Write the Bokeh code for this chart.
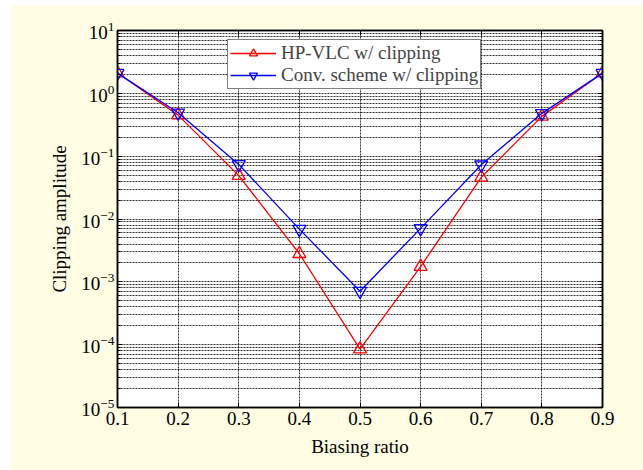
from bokeh.plotting import figure
from bokeh.models import (Range1d, FixedTicker, LogAxis, LinearAxis, LogTickFormatter,
                          CustomJSTickFormatter, Legend, LegendItem)
from bokeh.embed import file_html
from bokeh.resources import INLINE

# ---- data ----
biasing_ratio = [0.1, 0.2, 0.3, 0.4, 0.5, 0.6, 0.7, 0.8, 0.9]
hp_vlc_clip = [2.1, 0.45, 0.049, 0.0028, 0.000085, 0.00175, 0.046, 0.43, 2.1]
conv_clip = [2.1, 0.49, 0.074, 0.0069, 0.00071, 0.0071, 0.073, 0.48, 2.1]
series_names = ["HP-VLC w/ clipping", "Conv. scheme w/ clipping"]
x_ticks = [0.1, 0.2, 0.3, 0.4, 0.5, 0.6, 0.7, 0.8, 0.9]
y_decades = [1e-5, 1e-4, 1e-3, 1e-2, 1e-1, 1e0, 1e1]
y_minor = [m * d for d in y_decades[:-1] for m in range(2, 10)]

FONT = "Liberation Serif"
BG = "#fffde3"

p = figure(width=633, height=466, y_axis_type="log",
           x_range=Range1d(0.1, 0.9), y_range=Range1d(1e-5, 1e1),
           output_backend="svg", toolbar_location=None,
           background_fill_color="white", border_fill_color=BG,
           min_border_left=107, min_border_right=41, min_border_top=26, min_border_bottom=63,
           margin=(4, 0, 0, 10))

p.outline_line_color = "black"
p.outline_line_width = 1.5

xt = FixedTicker(ticks=x_ticks)
yt = FixedTicker(ticks=y_decades, minor_ticks=y_minor)

p.xaxis.ticker = xt
p.yaxis.ticker = yt
p.yaxis.formatter = LogTickFormatter()

for ax in (p.xaxis[0], p.yaxis[0]):
    ax.axis_line_color = "black"
    ax.axis_line_width = 1.5
    ax.major_tick_in = 5
    ax.major_tick_out = 0
    ax.minor_tick_in = 3
    ax.minor_tick_out = 0
    ax.major_label_text_font = FONT
    ax.major_label_text_font_size = "19px"
    ax.major_label_text_color = "black"
    ax.axis_label_text_font = FONT
    ax.axis_label_text_font_size = "19px"
    ax.axis_label_text_font_style = "normal"
    ax.axis_label_text_color = "black"

p.xaxis.axis_label = "Biasing ratio"
p.yaxis.axis_label = "Clipping amplitude"
p.xaxis.major_label_standoff = 4
p.xaxis.axis_label_standoff = 8
p.yaxis.major_label_standoff = 3
p.yaxis.axis_label_standoff = 8

# box ticks on top and right (no labels)
top_ax = LinearAxis(ticker=xt, formatter=CustomJSTickFormatter(code="return ''"),
                    major_tick_in=5, major_tick_out=0, minor_tick_line_color=None,
                    axis_line_color="black", axis_line_width=1.5)
right_ax = LogAxis(ticker=yt, formatter=CustomJSTickFormatter(code="return ''"),
                   major_tick_in=5, major_tick_out=0, minor_tick_in=3, minor_tick_out=0,
                   axis_line_color="black", axis_line_width=1.5)
p.add_layout(top_ax, "above")
p.add_layout(right_ax, "right")

# grids
p.xgrid.ticker = xt
p.ygrid.ticker = yt
for g in (p.xgrid[0], p.ygrid[0]):
    g.grid_line_color = "black"
    g.grid_line_alpha = 0.8
    g.grid_line_dash = "2 1"
    g.grid_line_width = 1
p.ygrid.minor_grid_line_color = "black"
p.ygrid.minor_grid_line_alpha = 0.8
p.ygrid.minor_grid_line_dash = "2 1"

# series
r1 = p.line(biasing_ratio, hp_vlc_clip, line_color="red", line_width=1.3)
m1 = p.scatter(biasing_ratio, hp_vlc_clip, marker="triangle", size=13,
               line_color="red", fill_color=None, line_width=1.3)
r2 = p.line(biasing_ratio, conv_clip, line_color="blue", line_width=1.3)
m2 = p.scatter(biasing_ratio, conv_clip, marker="inverted_triangle", size=13,
               line_color="blue", fill_color=None, line_width=1.3)

legend = Legend(items=[LegendItem(label=series_names[0], renderers=[r1, m1]),
                       LegendItem(label=series_names[1], renderers=[r2, m2])],
                location=(110, 318),
                label_text_font=FONT, label_text_font_size="19px",
                border_line_color="black", border_line_width=1.2,
                background_fill_color="white", background_fill_alpha=1,
                glyph_width=46, glyph_height=20, label_height=20,
                padding=2, spacing=0, margin=0, label_standoff=5)
p.add_layout(legend, "center")

open("out.html", "w").write(file_html(p, INLINE))
